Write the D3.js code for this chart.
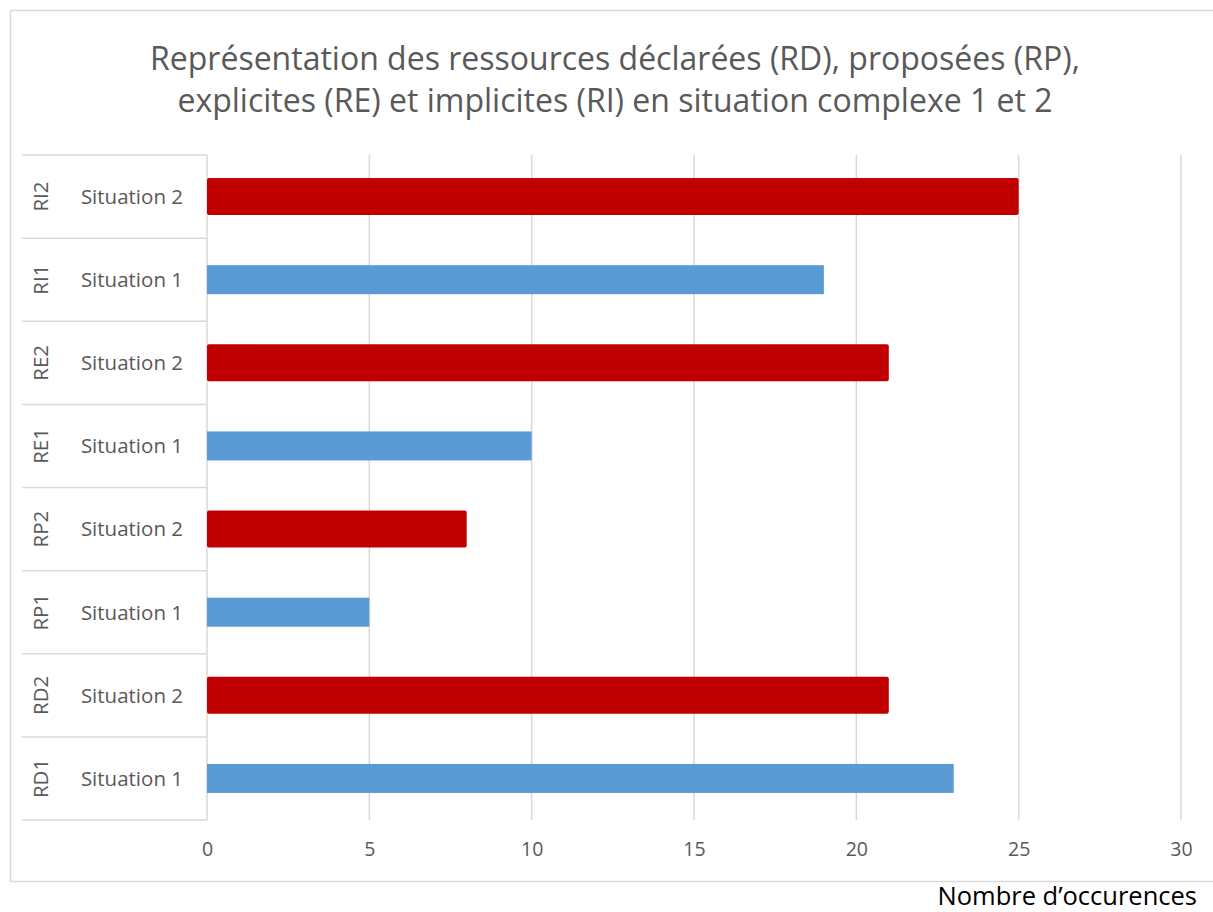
<!DOCTYPE html>
<html>
<head>
<meta charset="utf-8">
<script src="https://cdn.jsdelivr.net/npm/d3@7"></script>
<style>
  body { margin: 0; background: #fff; }
  text { font-family: "Open Sans", "Noto Sans", sans-serif; }
</style>
</head>
<body>
<div id="chart"></div>
<script>
// data, bottom row first as in the source
var groups = ["RD1", "RD2", "RP1", "RP2", "RE1", "RE2", "RI1", "RI2"];
var situations = ["Situation 1", "Situation 2", "Situation 1", "Situation 2", "Situation 1", "Situation 2", "Situation 1", "Situation 2"];
var values = [23, 21, 5, 8, 10, 21, 19, 25];
var xTicks = [0, 5, 10, 15, 20, 25, 30];
var titleLines = ["Représentation des ressources déclarées (RD), proposées (RP),",
                  "explicites (RE) et implicites (RI) en situation complexe 1 et 2"];
var xTitle = "Nombre d\u2019occurences";

var svgWidth = 1213;
var svgHeight = 912;
var margin = {top: 155, right: 32, bottom: 92, left: 207};
var width = svgWidth - margin.left - margin.right;
var height = svgHeight - margin.top - margin.bottom;

var svg = d3.select("#chart").append("svg")
    .attr("width", svgWidth).attr("height", svgHeight);

// chart frame
svg.append("rect")
    .attr("x", 10.5).attr("y", 10.5)
    .attr("width", 1220).attr("height", 871)
    .attr("fill", "none").attr("stroke", "#d9d9d9").attr("stroke-width", 1.5);

// title
svg.append("g").selectAll("text")
    .data(titleLines).enter().append("text")
    .attr("x", 615).attr("y", function (d, i) { return 70 + i * 42; })
    .attr("text-anchor", "middle")
    .attr("font-size", "32px")
    .attr("fill", "#595959")
    .text(function (d) { return d; });

var chart = svg.append("g").attr("transform", `translate(${margin.left},${margin.top})`);

var rows = groups.map(function (g, i) { return {group: g, sit: situations[i], value: values[i]}; }).reverse();

var xScale = d3.scaleLinear().domain([0, 30]).range([0, width]);
var yScale = d3.scaleBand().domain(rows.map(function (d) { return d.group; })).range([0, height]);

// gridlines
chart.append("g").selectAll("line")
    .data(xTicks.slice(1)).enter().append("line")
    .attr("x1", function (d) { return xScale(d); }).attr("x2", function (d) { return xScale(d); })
    .attr("y1", 0).attr("y2", height)
    .attr("stroke", "#d9d9d9").attr("stroke-width", 1.5);

// x tick labels
var xAxis = d3.axisBottom(xScale).tickValues(xTicks).tickSize(0).tickPadding(22);
var xg = chart.append("g").attr("transform", `translate(0,${height})`).call(xAxis);
xg.select(".domain").remove();
xg.selectAll("text").attr("font-size", "19.5px").attr("fill", "#595959")
    .style("font-family", "'Open Sans', sans-serif");

// category axis: separators, labels
var cat = chart.append("g");
cat.selectAll("line.sep")
    .data(d3.range(rows.length + 1)).enter().append("line")
    .attr("class", "sep")
    .attr("x1", 22 - margin.left).attr("x2", 0)
    .attr("y1", function (i) { return i * yScale.bandwidth(); })
    .attr("y2", function (i) { return i * yScale.bandwidth(); })
    .attr("stroke", "#d9d9d9").attr("stroke-width", 1.5);
cat.append("line")
    .attr("x1", 0).attr("x2", 0).attr("y1", 0).attr("y2", height)
    .attr("stroke", "#d9d9d9").attr("stroke-width", 1.5);

cat.selectAll("text.sit")
    .data(rows).enter().append("text")
    .attr("class", "sit")
    .attr("x", -24)
    .attr("y", function (d) { return yScale(d.group) + yScale.bandwidth() / 2; })
    .attr("dy", "0.36em")
    .attr("text-anchor", "end")
    .attr("font-size", "20.5px")
    .attr("fill", "#595959")
    .text(function (d) { return d.sit; });

cat.selectAll("text.grp")
    .data(rows).enter().append("text")
    .attr("class", "grp")
    .attr("transform", function (d) {
        return `translate(${-159},${yScale(d.group) + yScale.bandwidth() / 2})rotate(-90)`;
    })
    .attr("text-anchor", "middle")
    .attr("font-size", "20.5px")
    .attr("fill", "#595959")
    .text(function (d) { return d.group; });

// bars
chart.append("g").selectAll("rect")
    .data(rows).enter().append("rect")
    .attr("x", 0)
    .attr("y", function (d) {
        var h = d.sit === "Situation 2" ? 37 : 29;
        return yScale(d.group) + yScale.bandwidth() / 2 - h / 2;
    })
    .attr("width", function (d) { return xScale(d.value); })
    .attr("height", function (d) { return d.sit === "Situation 2" ? 37 : 29; })
    .attr("rx", function (d) { return d.sit === "Situation 2" ? 2 : 0; })
    .attr("fill", function (d) { return d.sit === "Situation 2" ? "#c00000" : "#5b9bd5"; });

// axis title
svg.append("text")
    .attr("x", 1197).attr("y", 905)
    .attr("text-anchor", "end")
    .attr("font-size", "25.5px")
    .attr("fill", "#000")
    .text(xTitle);
</script>
</body>
</html>
